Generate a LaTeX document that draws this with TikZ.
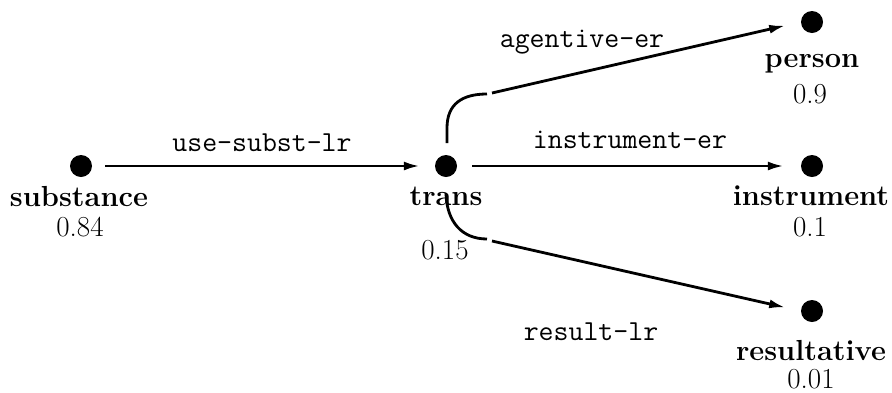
\documentclass[tikz,border=0pt]{standalone}
\usetikzlibrary{arrows.meta}
\begin{document}
\begin{tikzpicture}[x=1pt,y=-1pt,
  dot/.style={circle,fill=black,inner sep=0pt,minimum size=22pt},
  lab/.style={anchor=base,inner sep=0pt,font=\fontsize{29}{34}\selectfont\bfseries},
  num/.style={anchor=base,inner sep=0pt,font=\fontsize{29}{34}\selectfont},
  elab/.style={anchor=base,inner sep=0pt,font=\fontsize{29}{34}\selectfont\ttfamily},
  conn/.style={line width=2.8pt},
  arr/.style={conn,-{Latex[length=16pt,width=9pt]}}]
\useasboundingbox (0,0) rectangle (892,392);
% dots
\node[dot] (sub) at (81,166) {};
\node[dot] (tr) at (446,166) {};
\node[dot] (per) at (812,22) {};
\node[dot] (ins) at (812,166) {};
\node[dot] (res) at (812,311) {};
% node labels
\node[lab] (subL) at (79,206) {substance};
\node[num] (subN) at (80,236) {0.84};
\node[lab] (trL) at (446,205) {trans};
\node[num] (trN) at (445,259) {0.15};
\node[lab] (perL) at (812,67) {person};
\node[num] (perN) at (810,103) {0.9};
\node[lab] (insL) at (811,205) {instrument};
\node[num] (insN) at (810,236) {0.1};
\node[lab] (resL) at (811,360) {resultative};
\node[num] (resN) at (811,388) {0.01};
% edge labels
\node[elab] (e1) at (262,151) {use-subst-lr};
\node[elab] (e2) at (630,148) {instrument-er};
\node[elab] (e3) at (582,47) {agentive-er};
\node[elab] (e4) at (591,340) {result-lr};
% connectors
\draw[arr,shorten <=13pt,shorten >=15pt] (sub) -- (tr);
\draw[arr,shorten <=15pt,shorten >=17pt] (tr) -- (ins);
\coordinate (u0) at (447,143);
\coordinate (u1) at (487,94);
\coordinate (u2) at (492,93);
\draw[conn] (u0) -- (447,128) .. controls (447,104) and (462,94) .. (u1);
\draw[arr,shorten >=16pt] (u2) -- (per.west);
\coordinate (l0) at (446,194);
\coordinate (l1) at (487,239);
\coordinate (l2) at (492,241);
\draw[conn] (l0) .. controls (447,222) and (462,239) .. (l1);
\draw[arr,shorten >=16pt] (l2) -- (res.west);
\end{tikzpicture}
\end{document}
